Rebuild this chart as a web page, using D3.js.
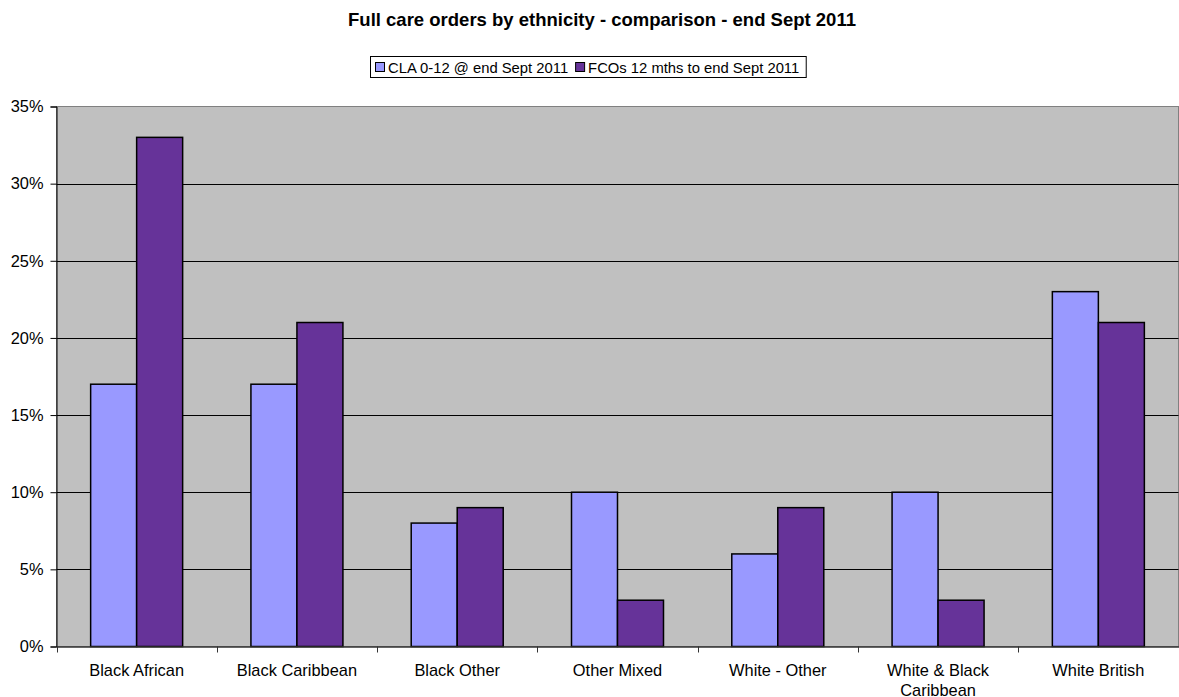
<!DOCTYPE html>
<html>
<head>
<meta charset="utf-8">
<script src="https://cdn.jsdelivr.net/npm/d3@7"></script>
<style>
  body { margin: 0; background: #fff; }
  svg { display: block; font-family: "Liberation Sans", Arial, sans-serif; }
</style>
</head>
<body>
<svg id="chart" width="1179" height="697"></svg>
<script>
// Share of children by ethnicity, two series
const categories = [
  ["Black African"],
  ["Black Caribbean"],
  ["Black Other"],
  ["Other Mixed"],
  ["White - Other"],
  ["White & Black", "Caribbean"],
  ["White British"]
];
const seriesNames = ["CLA 0-12 @ end Sept 2011", "FCOs 12 mths to end Sept 2011"];
const claValues = [17, 17, 8, 10, 6, 10, 23];
const fcoValues = [33, 21, 9, 3, 9, 3, 21];
const yTicks = [0, 5, 10, 15, 20, 25, 30, 35];

const colors = ["#9999ff", "#663399"];
const FONT = 16.4;
const LEGEND_FONT = 14.8;
const svg = d3.select("#chart");
const W = 1179, H = 697;
const m = { left: 56.5, right: 0.5, top: 106.5, bottom: 50.5 };
const plotW = W - m.left - m.right, plotH = H - m.top - m.bottom;

const keys = categories.map(c => c.join(" "));
const x = d3.scaleBand().domain(keys).range([m.left, m.left + plotW]).paddingInner(0).paddingOuter(0);
const y = d3.scaleLinear().domain([0, 35]).range([m.top + plotH, m.top]);
const inner = d3.scaleBand().domain([0, 1]).range([0, x.bandwidth()]).paddingInner(0).paddingOuter(0.5 * (x.bandwidth() - 92) / 46);

// plot background
svg.append("rect")
  .attr("x", m.left).attr("y", m.top).attr("width", plotW).attr("height", plotH)
  .attr("fill", "#c0c0c0").attr("stroke", "#808080").attr("stroke-width", 1);

// gridlines
svg.append("g").selectAll("line").data(yTicks.filter(t => t > 0 && t < 35)).join("line")
  .attr("x1", m.left).attr("x2", m.left + plotW)
  .attr("y1", d => Math.round(y(d)) + 0.5).attr("y2", d => Math.round(y(d)) + 0.5)
  .attr("stroke", "#000").attr("stroke-width", 1);

// bars
const data = keys.map((k, i) => ({ key: k, vals: [claValues[i], fcoValues[i]] }));
const groups = svg.append("g").selectAll("g").data(data).join("g")
  .attr("transform", d => `translate(${x(d.key)},0)`);
groups.selectAll("rect").data(d => d.vals.map((v, j) => ({ v, j }))).join("rect")
  .attr("x", d => inner(d.j))
  .attr("y", d => y(d.v))
  .attr("width", inner.bandwidth())
  .attr("height", d => y(0) - y(d.v))
  .attr("fill", d => colors[d.j])
  .attr("stroke", "#000").attr("stroke-width", 1.5);

// y axis
const yAxis = d3.axisLeft(y).tickValues(yTicks).tickFormat(d => d + "%").tickSize(6).tickPadding(7);
const gy = svg.append("g").attr("transform", `translate(${m.left},0)`).call(yAxis);
gy.select(".domain").attr("stroke", "#000");
gy.selectAll(".tick line").attr("stroke", "#000");
gy.selectAll(".tick text").attr("font-size", FONT).attr("fill", "#000")
  .attr("font-family", "'Liberation Sans', Arial, sans-serif");

// x axis
const xAxis = d3.axisBottom(x).tickSize(0).tickFormat("");
const gx = svg.append("g").attr("transform", `translate(0,${m.top + plotH})`).call(xAxis);
gx.select(".domain").attr("stroke", "#333").attr("stroke-width", 1.5);
gx.selectAll(".sep").data(d3.range(keys.length + 1)).join("line")
  .attr("class", "sep")
  .attr("x1", i => Math.round(m.left + i * x.step()) + 0.5)
  .attr("x2", i => Math.round(m.left + i * x.step()) + 0.5)
  .attr("y1", 0).attr("y2", 6)
  .attr("stroke", "#333").attr("stroke-width", 1);

const labels = svg.append("g").selectAll("text").data(categories).join("text")
  .attr("x", (d, i) => x(keys[i]) + x.bandwidth() / 2)
  .attr("y", 676)
  .attr("text-anchor", "middle")
  .attr("font-size", FONT)
  .attr("fill", "#000");
labels.selectAll("tspan").data(d => d).join("tspan")
  .attr("x", function () { return d3.select(this.parentNode).attr("x"); })
  .attr("dy", (d, i) => i === 0 ? 0 : 19.5)
  .text(d => d);

// title
svg.append("text").attr("x", 602).attr("y", 26).attr("text-anchor", "middle")
  .attr("font-size", 18.5).attr("font-weight", "bold").attr("fill", "#000")
  .text("Full care orders by ethnicity - comparison - end Sept 2011");

// legend: items laid out left to right from measured text widths
const lg = svg.append("g");
const box = lg.append("rect").attr("x", 370.5).attr("y", 56.5).attr("height", 21)
  .attr("fill", "#fff").attr("stroke", "#000").attr("stroke-width", 1);
let cx = 375;
seriesNames.forEach((name, i) => {
  lg.append("rect").attr("x", cx + 0.5).attr("y", 62.5).attr("width", 9).attr("height", 9)
    .attr("fill", colors[i]).attr("stroke", "#000").attr("stroke-width", 1);
  const t = lg.append("text").attr("x", cx + 13).attr("y", 72.5)
    .attr("font-size", LEGEND_FONT).attr("fill", "#000").text(name);
  cx += 13 + t.node().getComputedTextLength() + 7;
});
box.attr("width", cx - 370.5);
</script>
</body>
</html>
